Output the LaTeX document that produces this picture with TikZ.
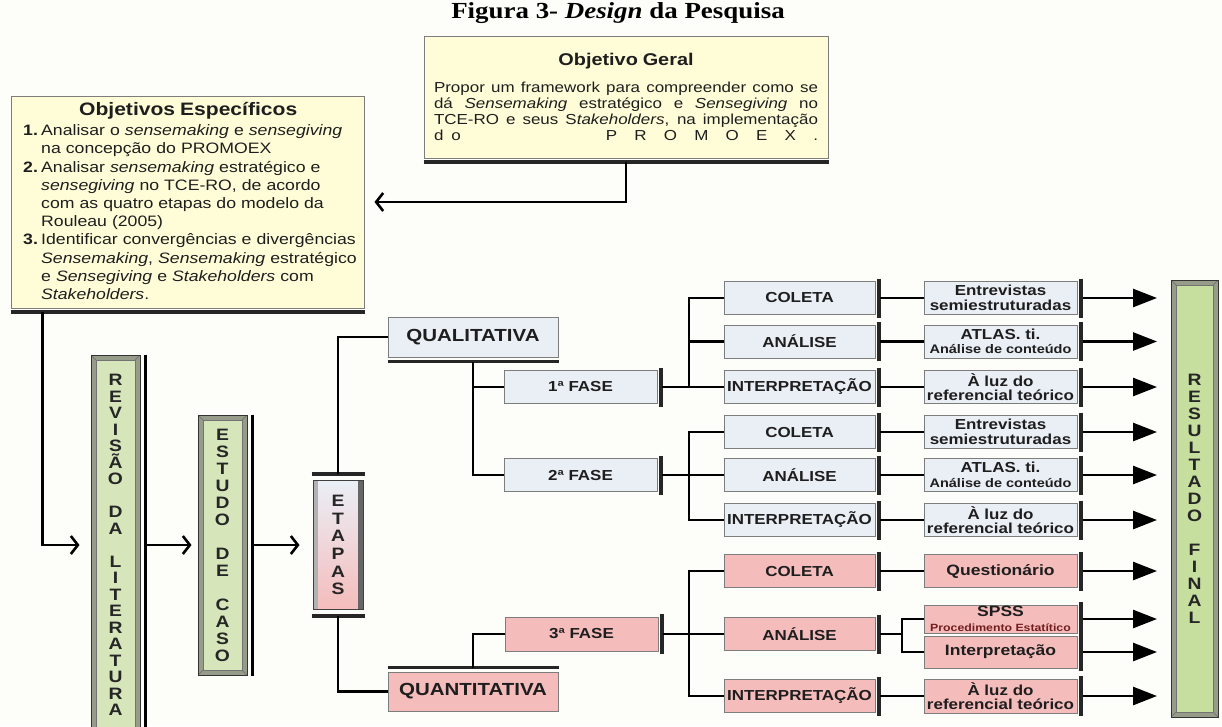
\documentclass[tikz,border=0pt]{standalone}
\usepackage{fontspec}
\setmainfont{Liberation Sans}[FakeStretch=1.17]
\newfontfamily\titlefont{Liberation Serif}[FakeStretch=1.17]
\usetikzlibrary{arrows.meta}
\definecolor{bgc}{RGB}{253,253,250}
\definecolor{yel}{RGB}{255,253,216}
\definecolor{blu}{RGB}{234,239,246}
\definecolor{pnk}{RGB}{245,188,188}
\definecolor{grn}{RGB}{214,229,186}
\definecolor{grn2}{RGB}{198,222,158}
\definecolor{frm}{RGB}{150,155,138}
\definecolor{bord}{RGB}{125,125,125}
\definecolor{txt}{RGB}{30,30,30}
\definecolor{procc}{RGB}{115,30,30}
\newcommand{\mylinej}[1]{\leavevmode\hbox to 384pt{\spaceskip=.278em plus 1fil\relax #1}}
\tikzset{
 conn/.style={line width=2.6pt, draw=black},
 oarr/.style={conn, -{Straight Barb[length=7pt,width=18pt]}},
 farr/.style={conn, -{Triangle[length=24pt,width=18pt]}},
 barv/.style={line width=3.5pt, draw=black!85},
 bx/.style={draw=bord, line width=1pt, inner sep=0pt, text=txt},
 lvlb/.style={bx, fill=blu, minimum width=151pt, minimum height=33pt, font=\bfseries\fontsize{14.5}{16}\selectfont},
 lvlp/.style={lvlb, fill=pnk},
 resb/.style={bx, fill=blu, minimum width=153pt, minimum height=33pt, align=center, font=\bfseries\fontsize{14.5}{14.5}\selectfont},
 resp/.style={resb, fill=pnk},
 faseb/.style={bx, fill=blu, minimum width=153pt, minimum height=33pt, font=\bfseries\fontsize{14.5}{16}\selectfont},
 tipob/.style={bx, minimum width=170pt, minimum height=40pt, font=\bfseries\fontsize{17.5}{19}\selectfont},
 vbox/.style={draw=black!80, line width=1pt, fill=frm, inner sep=0pt, align=center, text=black!85,
   path picture={
     \fill[#1] ([shift={(5pt,5pt)}]path picture bounding box.south west) rectangle ([shift={(-5pt,-5pt)}]path picture bounding box.north east);
     \draw[black!55, line width=0.7pt] ([shift={(5pt,5pt)}]path picture bounding box.south west) rectangle ([shift={(-5pt,-5pt)}]path picture bounding box.north east);
     \draw[black!55, line width=0.7pt] (path picture bounding box.south west) -- ++(5pt,5pt)
        (path picture bounding box.north west) -- ++(5pt,-5pt)
        (path picture bounding box.north east) -- ++(-5pt,-5pt)
        (path picture bounding box.south east) -- ++(-5pt,5pt);
   }},
}
\begin{document}
\begin{tikzpicture}[x=1pt,y=-1pt]
\fill[bgc] (0,0) rectangle (1222,726);
\useasboundingbox (0,0) rectangle (1222,726);

% title
\node[font=\titlefont\bfseries\fontsize{23}{25}\selectfont, inner sep=0pt] (title) at (618,13) {Figura 3- \textit{Design} da Pesquisa};

% objetivo geral
\node[bx, fill=yel, minimum width=404pt, minimum height=122pt] (og) at (626,97) {};
\node[anchor=north, inner sep=0pt, text width=384pt, align=left, text=txt, font=\fontsize{14.5}{16}\selectfont] (ogt) at (626,53)
 {\makebox[384pt]{\bfseries\fontsize{17}{18}\selectfont Objetivo Geral}\\[11pt]
  \mylinej{Propor um framework para compreender como se}\\
  \mylinej{dá \textit{Sensemaking} estratégico e \textit{Sensegiving} no}\\
  \mylinej{TCE-RO e seus S\textit{takeholders}, na implementação}\\
  \leavevmode\hbox to 384pt{d\hspace{8pt}o\hspace{145pt}P\hfill R\hfill O\hfill M\hfill O\hfill E\hfill X\hfill .}};
\draw[line width=3.5pt, black!85] ([yshift=-3.5pt]og.south west) -- ([yshift=-3.5pt]og.south east);

% objetivos especificos
\node[bx, fill=yel, minimum width=353pt, minimum height=212pt] (oe) at (187.5,202) {};
\node[anchor=north west, inner sep=0pt, text width=360pt, align=left, text=txt, font=\fontsize{15.1}{18.2}\selectfont] (oet) at (23,102)
 {\makebox[330pt]{\bfseries\fontsize{18}{20}\selectfont Objetivos Específicos}\\[2pt]
  \makebox[18pt][l]{\textbf{1.}}Analisar o \textit{sensemaking} e \textit{sensegiving}\\
  \hspace*{18pt}na concepção do PROMOEX\\
  \makebox[18pt][l]{\textbf{2.}}Analisar \textit{sensemaking} estratégico e\\
  \hspace*{18pt}\textit{sensegiving} no TCE-RO, de acordo\\
  \hspace*{18pt}com as quatro etapas do modelo da\\
  \hspace*{18pt}Rouleau (2005)\\
  \makebox[18pt][l]{\textbf{3.}}Identificar convergências e divergências\\
  \hspace*{18pt}\textit{Sensemaking}, \textit{Sensemaking} estratégico\\
  \hspace*{18pt}e \textit{Sensegiving} e \textit{Stakeholders} com\\
  \hspace*{18pt}\textit{Stakeholders}.};
\draw[line width=3.5pt, black!85] ([yshift=-3.5pt]oe.south west) -- ([yshift=-3.5pt]oe.south east);

% vertical boxes
\node[vbox=grn, minimum width=49pt, minimum height=380pt, font=\bfseries\fontsize{16.5}{16.5}\selectfont] (rev) at (115.5,545)
 {R\\E\\V\\I\\S\\Ã\\O\\[16.5pt]D\\A\\[16.5pt]L\\I\\T\\E\\R\\A\\T\\U\\R\\A};
\draw[line width=2.5pt] ([xshift=5pt]rev.north east) -- ([xshift=5pt]rev.south east);
\node[vbox=grn, minimum width=49pt, minimum height=260pt, font=\bfseries\fontsize{16.5}{17}\selectfont] (est) at (222.5,545)
 {E\\S\\T\\U\\D\\O\\[17pt]D\\E\\[17pt]C\\A\\S\\O};
\draw[line width=2.5pt] ([xshift=5pt]est.north east) -- ([xshift=5pt]est.south east);
\node[draw=black!75, line width=1pt, top color=blu, bottom color=pnk, inner sep=0pt, align=center, text=black!85,
  minimum width=50pt, minimum height=129pt, font=\bfseries\fontsize{16.5}{17.6}\selectfont,
  path picture={
   \fill[black!30] (path picture bounding box.north west) rectangle ([xshift=5pt]path picture bounding box.south west);
   \fill[black!60] ([xshift=-5pt]path picture bounding box.north east) rectangle (path picture bounding box.south east);
  }] (eta) at (338,545) {E\\T\\A\\P\\A\\S};
\draw[line width=3.5pt, black!85] ([xshift=-1pt,yshift=6pt]eta.north west) -- ([xshift=1pt,yshift=6pt]eta.north east);
\draw[line width=3.5pt, black!85] ([xshift=-1pt,yshift=-6pt]eta.south west) -- ([xshift=1pt,yshift=-6pt]eta.south east);
\node[vbox=grn2, minimum width=47pt, minimum height=437pt, font=\bfseries\fontsize{16.5}{17}\selectfont] (rf) at (1194.5,498.5)
 {R\\E\\S\\U\\L\\T\\A\\D\\O\\[17pt]F\\I\\N\\A\\L};

% first-level connectors
\draw[oarr] ([yshift=-3.5pt]og.south) |- ([xshift=10pt]oe.east);
\draw[oarr] ([xshift=32pt,yshift=-3.5pt]oe.south west) |- ([xshift=-11pt]rev.west);
\draw[oarr] ([xshift=6pt]rev.east) -- ([xshift=-6pt]est.west);
\draw[oarr] ([xshift=5pt]est.east) -- ([xshift=-13pt]eta.west);

% tipos
\node[tipob, fill=blu] (qual) at (473,337) {QUALITATIVA};
\node[tipob, fill=pnk, minimum height=39pt] (quant) at (473,691.5) {QUANTITATIVA};
\draw[line width=3.5pt, black!85] ([yshift=-4pt]qual.south west) -- ([yshift=-4pt]qual.south east);
\draw[line width=3.5pt, black!85] ([yshift=4pt]quant.north west) -- ([yshift=4pt]quant.north east);
\draw[conn] ([yshift=6pt]eta.north) |- (qual.west);
\draw[conn] ([yshift=-6pt]eta.south) |- (quant.west);

% fases
\node[faseb] (f1) at (580.5,387) {1ª FASE};
\node[faseb] (f2) at (580.5,475) {2ª FASE};
\node[faseb, fill=pnk, minimum height=34pt] (f3) at (581.5,634) {3ª FASE};
\draw[conn] ([yshift=-4pt]qual.south) |- (f2.west);
\draw[conn] (f1.west -| qual.south) -- (f1.west);
\draw[conn] ([yshift=4pt]quant.north) |- (f3.west);

% level 2
\node[lvlb] (c1) at (799.5,298) {COLETA};
\node[lvlb] (a1) at (799.5,341.5) {ANÁLISE};
\node[lvlb] (i1) at (799.5,387) {INTERPRETAÇÃO};
\node[lvlb] (c2) at (799.5,432) {COLETA};
\node[lvlb] (a2) at (799.5,475) {ANÁLISE};
\node[lvlb] (i2) at (799.5,520) {INTERPRETAÇÃO};
\node[lvlp] (c3) at (799.5,571) {COLETA};
\node[lvlp] (a3) at (799.5,634) {ANÁLISE};
\node[lvlp] (i3) at (799.5,696) {INTERPRETAÇÃO};

% level 3
\node[resb] (e1) at (1000.5,298) {Entrevistas\\semiestruturadas};
\node[resb] (at1) at (1000.5,341.5) {ATLAS. ti.\\{\fontsize{12.4}{13}\selectfont Análise de conteúdo}};
\node[resb] (l1) at (1000.5,387) {À luz do\\referencial teórico};
\node[resb] (e2) at (1000.5,432) {Entrevistas\\semiestruturadas};
\node[resb] (at2) at (1000.5,475) {ATLAS. ti.\\{\fontsize{12.4}{13}\selectfont Análise de conteúdo}};
\node[resb] (l2) at (1000.5,520) {À luz do\\referencial teórico};
\node[resp] (q) at (1000.5,571) {\fontsize{15}{15}\selectfont Questionário};
\node[resp, minimum height=28pt] (spss) at (1000.5,619) {{\fontsize{15}{15}\selectfont SPSS}\\{\fontsize{10.5}{11}\selectfont\color{procc}Procedimento Estatítico}};
\node[resp, minimum height=32pt] (ip) at (1000.5,652) {\fontsize{15}{15}\selectfont Interpretação};
\node[resp, minimum height=34pt] (l3) at (1000.5,696) {À luz do\\referencial teórico};

% bars on right side
\foreach \n in {f1,f2,f3,c1,a1,i1,c2,a2,i2,c3,a3,i3,e1,at1,l1,e2,at2,l2,q,spss,ip,l3}
  \draw[barv] ([xshift=3.5pt,yshift=2.5pt]\n.north east) -- ([xshift=3.5pt,yshift=-2.5pt]\n.south east);

% junctions
\coordinate (j1) at (689,387);
\coordinate (j2) at (689,475);
\coordinate (j3) at (689,634);
\coordinate (j4) at (902,634);
\coordinate (tip) at (1157,0);

\draw[conn] ([xshift=4pt]f1.east) -- (j1);
\draw[conn] (c1.west) -| (j1);
\draw[conn] (a1.west) -- (a1.west -| j1);
\draw[conn] (i1.west) -- (j1);

\draw[conn] ([xshift=4pt]f2.east) -- (j2);
\draw[conn] (c2.west) -| (j2);
\draw[conn] (i2.west) -| (j2);
\draw[conn] (a2.west) -- (j2);

\draw[conn] ([xshift=4pt]f3.east) -- (j3);
\draw[conn] (c3.west) -| (j3);
\draw[conn] (i3.west) -| (j3);
\draw[conn] (a3.west) -- (j3);

\foreach \a/\b in {c1/e1,a1/at1,i1/l1,c2/e2,a2/at2,i2/l2,c3/q,i3/l3}
  \draw[conn] ([xshift=4pt]\a.east) -- (\b.west);
\draw[conn] ([xshift=4pt]a3.east) -- (j4);
\draw[conn] (spss.west) -| (j4);
\draw[conn] (ip.west) -| (j4);

\foreach \n in {e1,at1,l1,e2,at2,l2,q,spss,ip,l3}
  \draw[farr] ([xshift=5pt]\n.east) -- (\n.east -| tip);
\end{tikzpicture}
\end{document}
